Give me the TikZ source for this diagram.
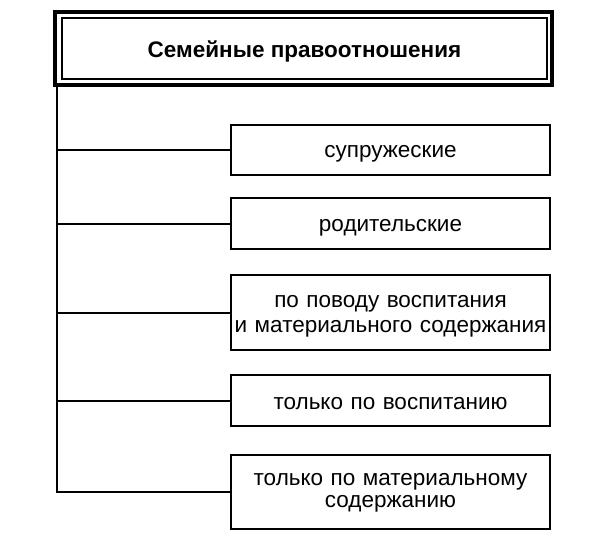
\documentclass[tikz,border=0pt]{standalone}
\usepackage{fontspec}
\setmainfont{Liberation Sans}
\begin{document}
\begin{tikzpicture}[x=1pt,y=-1pt,
  box/.style={draw, line width=2pt, minimum width=319pt, inner sep=0pt},
  lbl/.style={text width=315pt, align=center, inner sep=0pt, font=\fontsize{22.5}{25}\selectfont},
  conn/.style={line width=2pt}]
\useasboundingbox (0,0) rectangle (600,544);
\node[draw, line width=3.8pt, minimum width=497pt, minimum height=73pt, inner sep=0pt] (tout) at (303.5,48.5) {};
\node[draw, line width=1.3pt, minimum width=485pt, minimum height=61pt, inner sep=0pt] (t) at (304.5,48.5) {};
\node[inner sep=0pt, font=\fontsize{22.5}{26}\selectfont\bfseries, yshift=-3pt] (tt) at (t.center) {Семейные правоотношения};
\node[box, minimum height=50pt] (b1) at (390.5,150) {};
\node[box, minimum height=51pt] (b2) at (390.5,223.5) {};
\node[box, minimum height=75pt] (b3) at (390.5,312.5) {};
\node[box, minimum height=51pt] (b4) at (390.5,400.5) {};
\node[box, minimum height=74pt] (b5) at (390.5,492) {};
\node[lbl, yshift=-4pt] (b1t) at (b1.center) {супружеские};
\node[lbl, yshift=-4pt] (b2t) at (b2.center) {родительские};
\node[lbl, yshift=-4pt] (b3t) at (b3.center) {по поводу воспитания\\и материального содержания};
\node[lbl, yshift=-3pt] (b4t) at (b4.center) {только по воспитанию};
\node[lbl, yshift=-1pt, font=\fontsize{22.5}{21.5}\selectfont] (b5t) at (b5.center) {только по материальному\\содержанию};
\coordinate (s0) at (57,86);
\draw[conn] (s0) -- (s0 |- b5.west) -- (b5.west);
\foreach \b in {b1,b2,b3,b4} \draw[conn] (s0 |- \b.west) -- (\b.west);
\end{tikzpicture}
\end{document}
